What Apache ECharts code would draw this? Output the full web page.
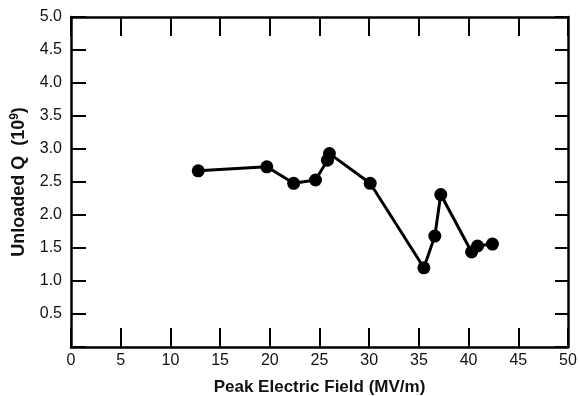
<!DOCTYPE html>
<html>
<head>
<meta charset="utf-8">
<script src="https://cdn.jsdelivr.net/npm/echarts@6/dist/echarts.min.js"></script>
<style>
  html, body { margin: 0; padding: 0; background: #fff; }
  #main { width: 580px; height: 396px; }
</style>
</head>
<body>
<div id="main"></div>
<script>
// Peak electric field (MV/m) vs unloaded Q (10^9)
var fieldValues = [12.8, 19.7, 22.4, 24.6, 25.8, 26.0, 30.1, 35.5, 36.6, 37.2, 40.3, 40.9, 42.4];
var qValues = [2.67, 2.73, 2.48, 2.53, 2.83, 2.93, 2.48, 1.20, 1.68, 2.31, 1.44, 1.53, 1.56];
var xTicks = [0, 5, 10, 15, 20, 25, 30, 35, 40, 45, 50];
var yTicks = [0.5, 1.0, 1.5, 2.0, 2.5, 3.0, 3.5, 4.0, 4.5, 5.0];

var points = fieldValues.map(function (x, i) { return [x, qValues[i]]; });

var chart = echarts.init(document.getElementById('main'));
var font = 'Liberation Sans, Arial, sans-serif';

option = {
    backgroundColor: '#fff',
    animation: false,
    grid: { left: 71, right: 12, top: 17, bottom: 49, containLabel: false, outerBoundsMode: 'none' },
    xAxis: [{
        type: 'value',
        position: 'bottom',
        min: 0, max: 50, interval: 5,
        name: 'Peak Electric Field (MV/m)',
        nameLocation: 'middle',
        nameGap: 32,
        nameTextStyle: { fontFamily: font, fontSize: 17, fontWeight: 'bold', color: '#111' },
        axisLine: { show: true, onZero: false, lineStyle: { color: '#000', width: 2.5 } },
        axisTick: { inside: true, length: 19, lineStyle: { color: '#000', width: 2 } },
        axisLabel: { fontFamily: font, fontSize: 16, color: '#111', margin: 6 },
        splitLine: { show: false }
    }, {
        type: 'value',
        position: 'top',
        min: 0, max: 50, interval: 5,
        axisLine: { show: true, onZero: false, lineStyle: { color: '#000', width: 2.5 } },
        axisTick: { inside: true, length: 19, lineStyle: { color: '#000', width: 2 } },
        axisLabel: { show: false },
        splitLine: { show: false }
    }],
    yAxis: [{
        type: 'value',
        position: 'left',
        min: 0, max: 5, interval: 0.5,
        name: 'Unloaded Q  (10{sup|9})',
        nameLocation: 'middle',
        nameGap: 41,
        nameTextStyle: {
            fontFamily: font, fontSize: 18, fontWeight: 'bold', color: '#111',
            rich: { sup: { fontFamily: font, fontSize: 12, fontWeight: 'bold', color: '#111', verticalAlign: 'top', padding: [0, 0, 9, 0] } }
        },
        axisLine: { show: true, onZero: false, lineStyle: { color: '#000', width: 2.5 } },
        axisTick: { inside: true, length: 15, lineStyle: { color: '#000', width: 2 } },
        axisLabel: {
            fontFamily: font, fontSize: 16, color: '#111', margin: 9,
            formatter: function (v) { return v === 0 ? '' : v.toFixed(1); }
        },
        splitLine: { show: false }
    }, {
        type: 'value',
        position: 'right',
        min: 0, max: 5, interval: 0.5,
        axisLine: { show: true, onZero: false, lineStyle: { color: '#000', width: 2.5 } },
        axisTick: { inside: true, length: 13, lineStyle: { color: '#000', width: 2 } },
        axisLabel: { show: false },
        splitLine: { show: false }
    }],
    series: [{
        type: 'line',
        data: points,
        symbol: 'circle',
        symbolSize: 13,
        lineStyle: { color: '#000', width: 3 },
        itemStyle: { color: '#000' }
    }]
};
chart.setOption(option);
</script>
</body>
</html>
